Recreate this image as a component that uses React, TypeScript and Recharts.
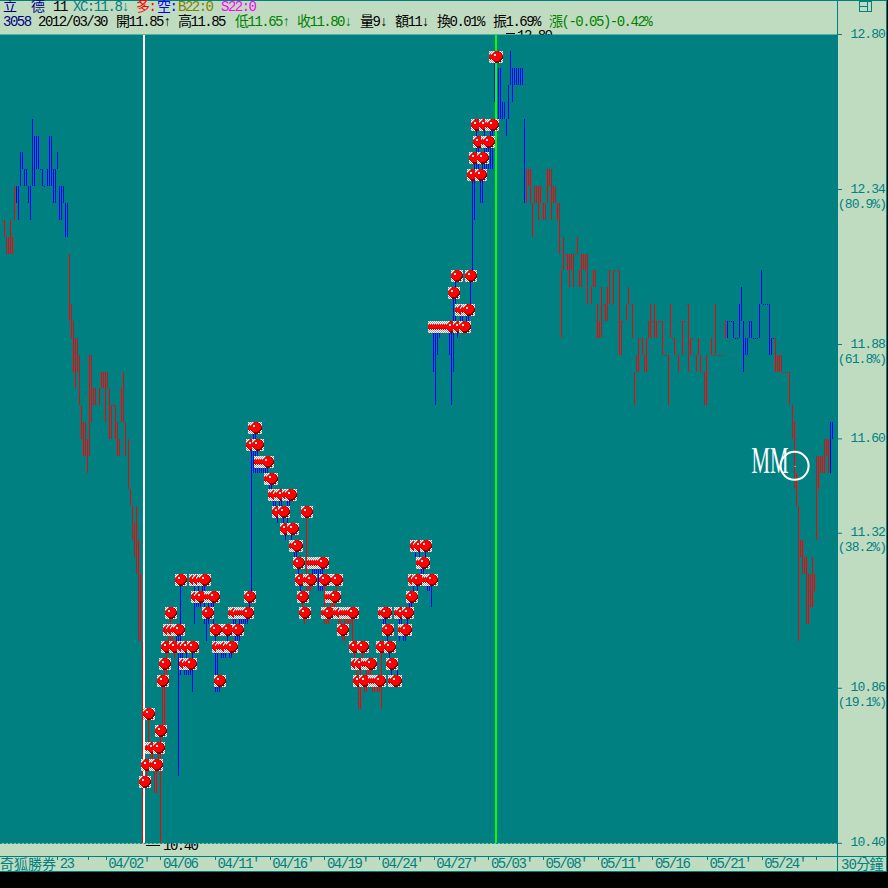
import React from 'react';
import { ComposedChart, Bar, Line, XAxis, YAxis, CartesianGrid, ReferenceLine, ReferenceDot } from 'recharts';

// 30 minute bars (0.05 price grid)
const lowPrices = [
  null, 12.25, 12.20, 12.15, 12.15, 12.15, 12.15, 12.25, 12.30, 12.25,
  12.35, 12.40, 12.35, 12.35, 12.30, 12.25, 12.35, 12.35, 12.40, 12.40,
  12.40, 12.35, 12.35, 12.35, 12.35, 12.35, 12.30, 12.30, 12.40, 12.25,
  12.25, 12.30, 12.20, 12.20, 11.95, 11.90, 11.80, 11.75, 11.80, 11.70,
  11.60, 11.55, 11.55, 11.50, 11.55, 11.65, 11.70, 11.70, 11.70, 11.70,
  11.75, 11.75, 11.65, 11.75, 11.60, 11.60, 11.70, 11.60, 11.55, 11.55,
  11.65, 11.65, 11.55, 11.45, 11.40, 11.30, 11.25, 11.20, 11.00, 11.00,
  10.40, 10.55, 10.60, 10.70, 10.65, 10.65, 10.55, 10.55, 10.65, 10.40,
  10.75, 10.75, 10.90, 11.00, 11.00, 11.00, 10.95, 11.00, 10.60, 10.90,
  10.95, 10.90, 10.90, 10.90, 10.90, 10.85, 11.05, 11.10, 11.10, 11.10,
  11.15, 11.05, 11.00, 11.05, 11.10, 11.05, 10.85, 10.85, 10.85, 10.95,
  10.95, 10.95, 11.00, 10.95, 10.95, 11.05, 11.00, 11.00, 11.00, 11.05,
  11.05, 11.05, 11.05, 11.10, 11.15, 11.50, 11.50, 11.50, 11.50, 11.50,
  11.50, 11.50, 11.50, 11.45, 11.45, 11.40, 11.40, 11.35, 11.40, 11.40,
  11.35, 11.30, 11.35, 11.40, 11.30, 11.25, 11.25, 11.20, 11.15, 11.10,
  11.05, 11.15, 11.15, 11.15, 11.20, 11.20, 11.20, 11.15, 11.15, 11.15,
  11.05, 11.05, 11.05, 11.10, 11.10, 11.10, 11.15, 11.05, 11.05, 11.00,
  11.00, 11.05, 11.05, 11.05, 11.00, 10.95, 10.90, 10.80, 10.80, 10.95,
  10.85, 10.85, 10.90, 10.90, 10.85, 10.85, 10.85, 10.85, 10.80, 11.05,
  11.05, 11.00, 10.95, 10.90, 10.90, 10.90, 10.90, 11.00, 11.05, 11.00,
  11.00, 11.05, 11.10, 11.10, 11.15, 11.25, 11.15, 11.25, 11.20, 11.20,
  11.25, 11.15, 11.15, 11.10, 11.80, 11.70, 11.85, 11.90, 11.95, 11.95,
  11.95, 11.95, 11.85, 11.70, 11.80, 11.95, 11.90, 11.95, 11.95, 11.95,
  11.95, 11.95, 12.00, 12.10, 12.25, 12.40, 12.40, 12.30, 12.30, 12.40,
  12.40, 12.40, 12.40, 12.40, 12.60, 12.65, 12.55, 12.55, 12.55, 12.55,
  12.50, 12.55, 12.65, 12.60, 12.65, 12.65, 12.65, 12.65, 12.65, 12.30,
  12.30, 12.35, 12.30, 12.20, 12.30, 12.30, 12.25, 12.30, 12.25, 12.25,
  12.30, 12.35, 12.25, 12.30, 12.30, 12.25, 12.15, 11.90, 12.10, 12.15,
  12.10, 12.05, 12.10, 12.05, 12.15, 12.15, 12.05, 12.05, 12.10, 12.10,
  12.00, 12.00, 12.00, 12.05, 12.05, 11.90, 11.90, 11.90, 12.00, 11.95,
  11.95, 12.00, 12.00, 12.00, 12.10, 12.10, 11.85, 11.85, 11.95, 11.95,
  12.00, 12.00, 11.90, 11.70, 11.80, 11.80, 11.90, 11.85, 11.80, 11.80,
  11.90, 11.90, 11.95, 11.90, 11.90, 11.95, 11.95, 11.85, 11.85, 11.85,
  11.70, 11.90, 11.90, 11.85, 11.85, 11.80, 11.95, 11.85, 11.95, 12.00,
  11.80, 11.85, 11.90, 11.85, 11.80, 11.85, 11.80, 11.80, 11.70, 11.70,
  11.80, 11.85, 11.85, 11.85, 11.85, 11.85, 11.85, 11.85, 11.90,
  11.90, 11.95, 11.95, 11.90, 11.90, 11.90, 11.90, 11.95, 11.80, 11.85,
  11.85, 11.90, 11.90, 11.90, 11.90, 11.90, 11.90, 12.00, 12.00, 12.00,
  12.00, 11.85, 11.85, 11.90, 11.80, 11.80, 11.80, 11.80, 11.80, 11.80,
  11.80, 11.70, 11.60, 11.45, 11.40, 11.00, 11.25, 11.20, 11.20, 11.05,
  11.05, 11.10, 11.10, 11.15, 11.30, 11.45, 11.50, 11.50, 11.50, 11.55,
  11.50, 11.50, 11.60, null,
];

const highPrices = [
  null, 12.25, 12.25, 12.20, 12.20, 12.25, 12.20, 12.35, 12.35, 12.35,
  12.45, 12.45, 12.40, 12.40, 12.35, 12.35, 12.55, 12.50, 12.50, 12.50,
  12.40, 12.40, 12.35, 12.40, 12.50, 12.50, 12.40, 12.40, 12.45, 12.35,
  12.35, 12.35, 12.30, 12.30, 12.15, 12.00, 11.95, 11.90, 11.90, 11.85,
  11.70, 11.65, 11.65, 11.60, 11.85, 11.85, 11.75, 11.75, 11.70, 11.75,
  11.80, 11.80, 11.80, 11.80, 11.75, 11.70, 11.70, 11.70, 11.65, 11.60,
  11.75, 11.80, 11.65, 11.60, 11.45, 11.40, 11.35, 11.40, 11.30, 11.20,
  11.00, 10.60, 10.65, 10.80, 10.70, 10.70, 10.65, 10.65, 10.70, 10.75,
  10.90, 10.95, 11.00, 11.05, 11.10, 11.05, 11.00, 11.05, 11.05, 11.20,
  11.00, 10.95, 11.00, 10.95, 10.95, 11.00, 11.20, 11.15, 11.20, 11.15,
  11.20, 11.20, 11.10, 11.15, 11.15, 11.15, 11.05, 11.00, 10.90, 11.00,
  11.00, 11.00, 11.05, 11.00, 11.00, 11.10, 11.10, 11.05, 11.10, 11.10,
  11.10, 11.10, 11.10, 11.15, 11.60, 11.65, 11.65, 11.60, 11.55, 11.55,
  11.55, 11.55, 11.55, 11.50, 11.50, 11.45, 11.45, 11.40, 11.45, 11.45,
  11.40, 11.35, 11.45, 11.45, 11.35, 11.30, 11.30, 11.25, 11.20, 11.15,
  11.10, 11.40, 11.20, 11.20, 11.25, 11.25, 11.25, 11.25, 11.25, 11.25,
  11.20, 11.10, 11.10, 11.15, 11.15, 11.15, 11.20, 11.10, 11.10, 11.05,
  11.10, 11.10, 11.10, 11.10, 11.10, 11.00, 10.95, 10.90, 10.95, 11.00,
  10.90, 10.95, 10.95, 10.95, 10.90, 10.90, 10.90, 10.90, 11.00, 11.10,
  11.10, 11.05, 11.00, 10.95, 10.90, 10.90, 10.95, 11.10, 11.10, 11.05,
  11.05, 11.10, 11.15, 11.15, 11.20, 11.30, 11.20, 11.30, 11.25, 11.25,
  11.30, 11.20, 11.20, 11.20, 11.95, 11.95, 11.95, 11.95, 11.95, 11.95,
  11.95, 11.95, 11.95, 11.95, 12.05, 12.10, 11.95, 12.00, 12.00, 11.95,
  12.00, 12.00, 12.10, 12.40, 12.45, 12.55, 12.50, 12.40, 12.45, 12.55,
  12.50, 12.50, 12.55, 12.55, 12.75, 12.75, 12.70, 12.70, 12.60, 12.60,
  12.55, 12.65, 12.75, 12.70, 12.70, 12.70, 12.70, 12.70, 12.70, 12.55,
  12.40, 12.40, 12.40, 12.30, 12.35, 12.35, 12.35, 12.35, 12.30, 12.30,
  12.40, 12.40, 12.40, 12.35, 12.35, 12.30, 12.30, 12.10, 12.20, 12.15,
  12.15, 12.15, 12.15, 12.15, 12.15, 12.20, 12.10, 12.15, 12.15, 12.15,
  12.15, 12.00, 12.05, 12.10, 12.10, 12.00, 11.95, 12.05, 12.00, 12.00,
  12.05, 12.10, 12.00, 12.10, 12.10, 12.10, 12.10, 11.95, 11.95, 12.00,
  12.05, 12.00, 12.00, 11.80, 11.85, 11.90, 11.90, 11.90, 11.85, 11.90,
  11.95, 12.00, 11.95, 12.00, 11.95, 11.95, 11.95, 11.95, 11.85, 11.85,
  11.85, 12.00, 11.90, 11.90, 11.85, 11.85, 11.95, 11.95, 11.95, 12.00,
  12.00, 11.90, 11.90, 11.85, 11.85, 11.90, 11.85, 11.80, 11.80, 11.85,
  11.80, 11.90, 11.85, 12.00, 11.85, 11.85, 11.85, 11.85, 11.95,
  11.95, 11.95, 11.95, 11.95, 11.90, 11.90, 12.00, 12.05, 11.95, 11.90,
  11.90, 11.95, 11.95, 11.90, 11.90, 11.90, 12.00, 12.10, 12.00, 12.00,
  12.00, 12.00, 11.90, 11.90, 11.90, 11.85, 11.85, 11.85, 11.80, 11.80,
  11.80, 11.80, 11.70, 11.65, 11.50, 11.40, 11.30, 11.30, 11.25, 11.25,
  11.20, 11.20, 11.25, 11.20, 11.55, 11.55, 11.55, 11.55, 11.60, 11.60,
  11.60, 11.65, 11.65, null,
];

// bars drawn blue, everything else is red
const blueRuns = [[8, 33], [87, 148], [154, 159], [189, 259], [359, 382], [410, 411]];
// bars carrying a ball marker on their high
const signalRuns = [[71, 195], [197, 201], [203, 245]];

const priceTicks = [12.8, 12.34, 11.88, 11.6, 11.32, 10.86, 10.4];
const priceRatios: Record<string, string> = { '12.34': '(80.9%)', '11.88': '(61.8%)', '11.32': '(38.2%)', '10.86': '(19.1%)' };

const dateTickBars = [28, 43, 52, 79, 106, 133, 160, 187, 214, 241, 268, 295, 322, 349, 376, 403];
const dateLabels: Record<number, string> = {
  28: '23', 43: '', 52: "04/02'", 79: '04/06', 106: "04/11'", 133: "04/16'", 160: "04/19'", 187: "04/24'",
  214: "04/27'", 241: "05/03'", 268: "05/08'", 295: "05/11'", 322: '05/16', 349: "05/21'", 376: "05/24'", 403: '',
};

const inRuns = (runs: number[][], i: number) => runs.some(([a, b]) => i >= a && i <= b);

const bars = lowPrices.map((low, i) => ({
  idx: i,
  low,
  range: low === null ? null : [low, highPrices[i]],
  signal: inRuns(signalRuns, i) ? highPrices[i] : null,
  blue: inRuns(blueRuns, i),
}));

const TEAL = '#008080';
const PANEL = '#C0DCC0';
const FONT = '"Liberation Mono", "Noto Sans CJK TC", monospace';

// 12x12 ball bitmap: w white, g grey, r red, m mid red, d dark red, h highlight
const ballRows = [
  'wgwgmrrmgwgw',
  'gwgrrrrrrmwg',
  'wgrrrrrrrrmw',
  'grrhhrrrrrmg',
  'rrrhhrrrrrrm',
  'rrrrrrrrrrrd',
  'rrrrrrrrrrrd',
  'mrrrrrrrrrdd',
  'wmrrrrrrrddw',
  'gwmrrrrrddwg',
  'wgwmddddddgw',
  'gwgwddddwgwg',
];
const ballColors: Record<string, string> = { w: '#ffffff', g: '#a0a0a0', r: '#ff0000', m: '#c00000', d: '#800000', h: '#e8e8e8' };
const ballPaths = Object.keys(ballColors).map((c) => {
  let d = '';
  ballRows.forEach((row, y) => row.split('').forEach((ch, x) => { if (ch === c) d += `M${x} ${y}h1v1h-1z`; }));
  return { fill: ballColors[c], d };
});

const Stick = (props: any) => {
  const { x, y, height, payload } = props;
  if (!payload || payload.low === null) return null;
  const h = Math.abs(height || 0);
  const top = height < 0 ? y + height : y;
  // the bars land on whole pixels in the terminal, every ~41 bars the gap is 3px
  return <rect x={Math.floor(x - 0.54)} y={top} width={1} height={Math.max(h, 1)} fill={payload.blue ? '#0000ff' : '#ff0000'} shapeRendering="crispEdges" />;
};

const BallDot = (props: any) => {
  const { cx, cy, value, index } = props;
  if (value === null || value === undefined || cy === null || cy === undefined) return <g key={index} />;
  return (
    <g key={index} transform={`translate(${Math.round(cx - 6)},${Math.round(cy)})`} shapeRendering="crispEdges">
      {ballPaths.map((p) => <path key={p.fill} d={p.d} fill={p.fill} />)}
    </g>
  );
};

const PriceTick = (props: any) => {
  const { x, y, payload } = props;
  const ratio = priceRatios[payload.value.toFixed(2)];
  return (
    <g fontFamily={FONT} fontSize={13} fill={TEAL} letterSpacing={-0.9}>
      <text x={x + 43} y={y + 3} textAnchor="end">{payload.value.toFixed(2)}</text>
      {ratio && <text x={x + 20} y={y + 18} textAnchor="middle">{ratio}</text>}
    </g>
  );
};

const DateTick = (props: any) => {
  const { x, y, payload } = props;
  return (
    <g fontFamily={FONT} fontSize={14} fill={TEAL}>
      <line x1={x} x2={x} y1={y + 13} y2={y + 17} stroke={TEAL} shapeRendering="crispEdges" />
      <text x={x + 2} y={y + 25} letterSpacing={-1.5}>{dateLabels[payload.value]}</text>
    </g>
  );
};

const MmMark = (props: any) => {
  const { cx, cy } = props;
  return (
    <g>
      <text x={cx - 43} y={cy + 7} fontFamily='"Liberation Serif", serif' fontSize={38} fill="#ffffff" textLength={37} lengthAdjust="spacingAndGlyphs">MM</text>
      <circle cx={cx} cy={cy} r={14} fill="none" stroke="#ffffff" strokeWidth={2} />
      <rect x={cx} y={cy} width={1} height={1} fill="#ffffff" />
    </g>
  );
};

const Txt = ({ x, y, color, spacing = -1.5, children }: { x: number; y: number; color: string; spacing?: number; children: React.ReactNode }) => (
  <span style={{ position: 'absolute', left: x, top: y, color, font: `14px/14px ${FONT}`, letterSpacing: spacing, whiteSpace: 'pre' }}>{children}</span>
);

const Rule = ({ x, y, w, h, color = TEAL }: { x: number; y: number; w: number; h: number; color?: string }) => (
  <div style={{ position: 'absolute', left: x, top: y, width: w, height: h, background: color }} />
);

const App: React.FC = () => {
  return (
    <div style={{ position: 'absolute', left: 0, top: 0, width: 888, height: 888, background: '#000', overflow: 'hidden' }}>
      <div style={{ position: 'absolute', left: 0, top: 0, width: 887, height: 872, background: PANEL }} />
      <Rule x={0} y={0} w={887} h={1} />
      <Rule x={886} y={0} w={1} h={872} />
      <Rule x={0} y={871} w={887} h={1} />
      <Rule x={837} y={0} w={1} h={35} />
      <Rule x={837} y={843} w={1} h={28} />
      <Rule x={0} y={856} w={886} h={1} />
      {/* little window icon top right */}
      <div style={{ position: 'absolute', left: 859, top: 1, width: 11, height: 9, border: `1px solid ${TEAL}` }} />
      <Rule x={867} y={1} w={1} h={10} />
      <Rule x={859} y={6} w={8} h={1} />

      <Txt x={3} y={0} color="#000080">立</Txt>
      <Txt x={31} y={0} color="#000080">德</Txt>
      <Txt x={53} y={0} color="#000000">11</Txt>
      <Txt x={73} y={0} color={TEAL}>XC:11.8↓</Txt>
      <Txt x={136} y={0} color="#ff0000">多:</Txt>
      <Txt x={157} y={0} color="#0000ff">空:</Txt>
      <Txt x={178} y={0} color="#808000">B22:0</Txt>
      <Txt x={221} y={0} color="#ff00ff">S22:0</Txt>

      <Txt x={3} y={15} color="#000080">3058</Txt>
      <Txt x={38} y={15} color="#000000">2012/03/30</Txt>
      <Txt x={116} y={15} color="#000000">開11.85↑</Txt>
      <Txt x={178} y={15} color="#000000">高11.85</Txt>
      <Txt x={235} y={15} color="#008000">低11.65↑</Txt>
      <Txt x={297} y={15} color="#008000">收11.80↓</Txt>
      <Txt x={360} y={15} color="#000000">量9↓</Txt>
      <Txt x={395} y={15} color="#000000">額11↓</Txt>
      <Txt x={437} y={15} color="#000000">換0.01%</Txt>
      <Txt x={493} y={15} color="#000000">振1.69%</Txt>
      <Txt x={549} y={15} color="#008000">漲(-0.05)-0.42%</Txt>

      {/* high and low callouts, partly hidden by the plot like in the terminal */}
      <Rule x={506} y={33} w={9} h={1} color="#000000" />
      <Txt x={517} y={29} color="#000000">12.80</Txt>
      <Rule x={146} y={845} w={14} h={1} color="#000000" />
      <Txt x={163} y={839} color="#000000">10.40</Txt>

      <Txt x={0} y={858} color={TEAL} spacing={0}>奇狐勝券</Txt>
      <Txt x={841} y={858} color={TEAL} spacing={-0.8}>30分鐘</Txt>

      <div style={{ position: 'absolute', left: 0, top: 0 }}>
        <ComposedChart
          width={888}
          height={888}
          data={bars}
          barSize={1}
          margin={{ top: 34.5, right: 0, left: 0, bottom: 0 }}
        >
          <CartesianGrid fill={TEAL} horizontal={false} vertical={false} />
          <XAxis
            dataKey="idx"
            type="category"
            height={44.7}
            padding={{ left: 0, right: 1.9 }}
            ticks={dateTickBars}
            interval={0}
            tickLine={false}
            tickSize={0}
            tickMargin={0}
            axisLine={{ stroke: TEAL, strokeDasharray: '2 2' }}
            tick={DateTick}
          />
          <YAxis
            orientation="right"
            width={50}
            domain={[10.4, 12.8]}
            ticks={priceTicks}
            interval={0}
            axisLine={false}
            tickSize={4}
            tickMargin={0}
            tickLine={{ stroke: TEAL }}
            tick={PriceTick}
          />
          <ReferenceLine x={71} position="start" stroke="#ffffff" strokeWidth={2} shapeRendering="crispEdges" />
          <ReferenceLine x={245} position="start" stroke="#00ff00" strokeWidth={2} shapeRendering="crispEdges" />
          <Bar dataKey="range" shape={Stick} isAnimationActive={false} />
          <Line dataKey="signal" stroke="none" dot={BallDot} activeDot={false} isAnimationActive={false} connectNulls={false} />
          <ReferenceDot x={392} y={11.52} shape={MmMark} />
        </ComposedChart>
      </div>
    </div>
  );
};

export default App;
